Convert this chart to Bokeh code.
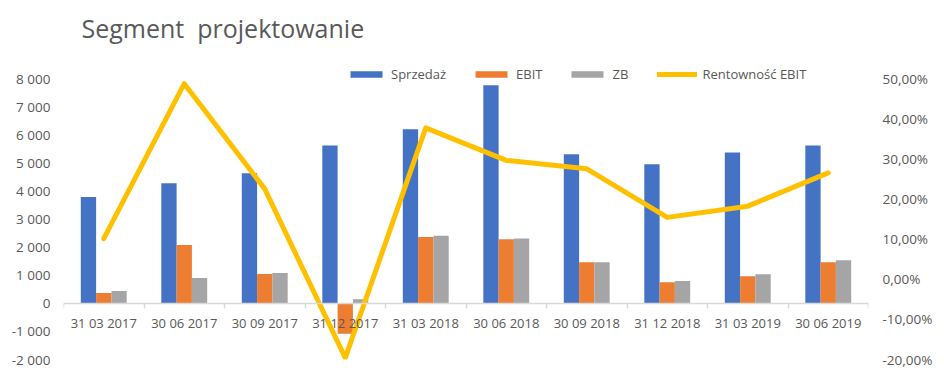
from bokeh.plotting import figure
from bokeh.models import Range1d, LinearAxis, FixedTicker, Legend, LegendItem, ColumnDataSource, Label
from bokeh.transform import dodge
from bokeh.embed import file_html
from bokeh.resources import INLINE

title_text = "Segment  projektowanie"
categories = ["31 03 2017", "30 06 2017", "30 09 2017", "31 12 2017", "31 03 2018",
              "30 06 2018", "30 09 2018", "31 12 2018", "31 03 2019", "30 06 2019"]
sprzedaz = [3780, 4270, 4630, 5620, 6190, 7760, 5300, 4950, 5370, 5620]
ebit = [370, 2075, 1045, -1080, 2360, 2280, 1460, 750, 960, 1460]
zb = [440, 900, 1080, 140, 2400, 2310, 1460, 790, 1030, 1530]
rentownosc = [10.1, 48.7, 22.5, -19.6, 37.7, 29.6, 27.5, 15.4, 18.2, 26.5]

left_ticks = [-2000, -1000, 0, 1000, 2000, 3000, 4000, 5000, 6000, 7000, 8000]
left_labels = ["-2 000", "-1 000", "0", "1 000", "2 000", "3 000", "4 000",
               "5 000", "6 000", "7 000", "8 000"]
right_ticks = [-20, -10, 0, 10, 20, 30, 40, 50]
right_labels = ["-20,00%", "-10,00%", "0,00%", "10,00%", "20,00%", "30,00%",
                "40,00%", "50,00%"]

TXT = "#595959"
FONT = "Open Sans"

pos = list(range(1, len(categories) + 1))
src = ColumnDataSource(dict(x=pos, sprzedaz=sprzedaz, ebit=ebit, zb=zb, rent=rentownosc))

# frame spans the full height above the bottom border; 8000 / 50% sit at y=78, -2000 / -20% at y=359
FRAME_TOP, AX_TOP, FRAME_BOTTOM = 2, 78, 359
extra = (AX_TOP - FRAME_TOP) / (FRAME_BOTTOM - AX_TOP)
lo, hi = left_ticks[0], left_ticks[-1]
rlo, rhi = right_ticks[0], right_ticks[-1]

p = figure(width=944, height=376, x_range=Range1d(0.5, len(categories) + 0.5),
           y_range=Range1d(lo, hi + extra * (hi - lo)), output_backend="svg",
           toolbar_location=None,
           min_border_left=63, min_border_right=76, min_border_top=FRAME_TOP,
           min_border_bottom=376 - FRAME_BOTTOM)
p.extra_y_ranges = {"pct": Range1d(rlo, rhi + extra * (rhi - rlo))}
p.grid.visible = False
p.outline_line_color = None
p.background_fill_color = "white"
p.border_fill_color = "white"

# chart title (drawn inside the tall frame, positioned in screen pixels)
title = Label(x=18, y=FRAME_BOTTOM - 27, x_units="screen", y_units="screen",
              text=title_text.replace("  ", " \u00a0"), text_font=FONT,
              text_font_size="25px", text_color=TXT, text_baseline="alphabetic",
              text_align="left")
p.add_layout(title)

bw = 0.19
r1 = p.vbar(x=dodge("x", -bw, range=p.x_range), top="sprzedaz", bottom=0, width=bw,
            fill_color="#4472C4", line_color=None, source=src)
r2 = p.vbar(x=dodge("x", 0, range=p.x_range), top="ebit", bottom=0, width=bw,
            fill_color="#ED7D31", line_color=None, source=src)
r3 = p.vbar(x=dodge("x", bw, range=p.x_range), top="zb", bottom=0, width=bw,
            fill_color="#A5A5A5", line_color=None, source=src)
r4 = p.line(x="x", y="rent", y_range_name="pct", line_color="#FFC000", line_width=5,
            line_join="round", line_cap="round", source=src)

# x axis crossing at 0
xa = p.xaxis[0]
xa.fixed_location = 0
xa.ticker = FixedTicker(ticks=pos, minor_ticks=[i + 0.5 for i in range(len(categories) + 1)])
xa.major_label_overrides = {pos[i]: categories[i] for i in range(len(categories))}
xa.axis_line_color = "#D9D9D9"
xa.axis_line_width = 1.5
xa.major_tick_out = 0
xa.major_tick_in = 0
xa.minor_tick_out = 5
xa.minor_tick_in = 0
xa.minor_tick_line_color = "#D9D9D9"
xa.minor_tick_line_width = 1.5
xa.major_label_standoff = 6
xa.major_label_text_font = FONT
xa.major_label_text_font_size = "13px"
xa.major_label_text_color = TXT

ya = p.yaxis[0]
ya.ticker = FixedTicker(ticks=left_ticks)
ya.major_label_overrides = {left_ticks[i]: left_labels[i] for i in range(len(left_ticks))}
ya.axis_line_color = None
ya.major_tick_out = 0
ya.major_tick_in = 0
ya.minor_tick_line_color = None
ya.major_label_standoff = 13
ya.major_label_text_font = FONT
ya.major_label_text_font_size = "13.5px"
ya.major_label_text_color = TXT

ra = LinearAxis(y_range_name="pct", ticker=FixedTicker(ticks=right_ticks))
ra.major_label_overrides = {right_ticks[i]: right_labels[i] for i in range(len(right_ticks))}
ra.axis_line_color = None
ra.major_tick_out = 0
ra.major_tick_in = 0
ra.minor_tick_line_color = None
ra.major_label_standoff = 14
ra.major_label_text_font = FONT
ra.major_label_text_font_size = "13.5px"
ra.major_label_text_color = TXT
p.add_layout(ra, "right")

legend = Legend(items=[LegendItem(label="Sprzedaż", renderers=[r1]),
                       LegendItem(label="EBIT", renderers=[r2]),
                       LegendItem(label="ZB", renderers=[r3]),
                       LegendItem(label="Rentowność EBIT", renderers=[r4])],
                orientation="horizontal", location=(283, 276))
legend.border_line_color = None
legend.background_fill_alpha = 0
legend.padding = 0
legend.margin = 0
legend.spacing = 25
legend.label_standoff = 5
legend.glyph_width = 40
legend.glyph_height = 8
legend.label_height = 16
legend.label_text_font = FONT
legend.label_text_font_size = "13px"
legend.label_text_color = TXT
p.add_layout(legend, "center")

open("out.html", "w").write(file_html(p, INLINE))
